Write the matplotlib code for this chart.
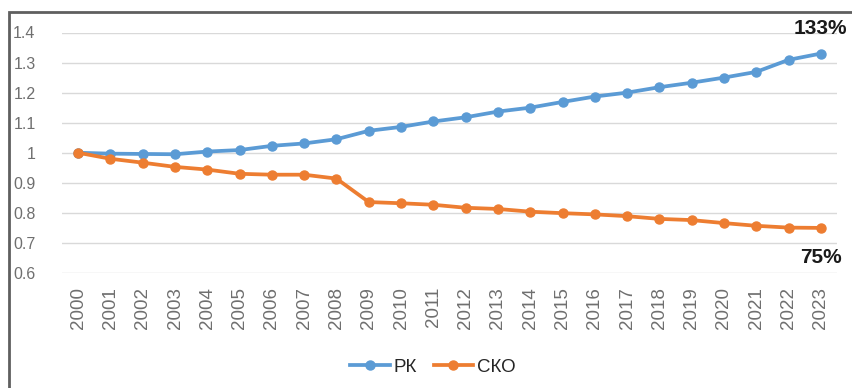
import matplotlib.pyplot as plt
from matplotlib.patches import Rectangle

plt.rcParams['font.family'] = ['Liberation Sans', 'DejaVu Sans']

# years and index values (2000 = 1)
years = [str(y) for y in range(2000, 2024)]
rk = [1.000, 0.997, 0.996, 0.995, 1.004, 1.009, 1.023, 1.031, 1.045, 1.073,
      1.086, 1.104, 1.118, 1.137, 1.150, 1.169, 1.187, 1.200, 1.218, 1.233,
      1.250, 1.269, 1.309, 1.33]
sko = [1.000, 0.980, 0.967, 0.953, 0.944, 0.930, 0.927, 0.927, 0.914, 0.836,
       0.832, 0.827, 0.817, 0.813, 0.804, 0.799, 0.795, 0.789, 0.780, 0.776,
       0.766, 0.757, 0.751, 0.75]
yticks = [0.6, 0.7, 0.8, 0.9, 1, 1.1, 1.2, 1.3, 1.4]

BLUE = '#5b9bd5'
ORANGE = '#ed7d31'
GREY = '#6f6f6f'

fig = plt.figure(figsize=(8.52, 3.88), dpi=100)
ax = fig.add_axes([62 / 852, 1 - 273 / 388, 775 / 852, 240.5 / 388])

x = range(len(years))
ax.plot(x, rk, color=BLUE, lw=2.7, marker='o', ms=6.5, label='РК', zorder=3)
ax.plot(x, sko, color=ORANGE, lw=2.7, marker='o', ms=6.5, label='СКО', zorder=3)

ax.set_xlim(-0.5, len(years) - 0.5)
ax.set_ylim(0.6, 1.4)
ax.set_yticks(yticks)
ax.set_yticklabels([f'{v:g}' for v in yticks])
ax.set_xticks(list(x))
ax.set_xticklabels(years, rotation=90)
ax.tick_params(axis='y', length=0, pad=19, labelsize=11.5, labelcolor=GREY)
ax.tick_params(axis='x', length=0, pad=10, labelsize=13.5, labelcolor=GREY)
ax.grid(axis='y', color='#d9d9d9', lw=1)
ax.set_axisbelow(True)
for s in ax.spines.values():
    s.set_visible(False)

# end-point percentage labels
ax.annotate(f'{rk[-1] * 100:.0f}%', (len(years) - 1, rk[-1]), xytext=(0, 18),
            textcoords='offset points', ha='center', va='center',
            fontsize=15, fontweight='bold', color='#1a1a1a')
ax.annotate(f'{sko[-1] * 100:.0f}%', (len(years) - 1, sko[-1]), xytext=(0, -21),
            textcoords='offset points', ha='center', va='center',
            fontsize=15, fontweight='bold', color='#1a1a1a')

fig.legend(loc='center', bbox_to_anchor=(433 / 852, 1 - 367 / 388), ncol=2,
           frameon=False, fontsize=13.5, handlelength=2.1, handletextpad=0.2,
           columnspacing=0.9, labelcolor='#262626')

# outer frame around the chart
fig.patches.append(Rectangle((9 / 852, -0.2), 1.2, 1.2 - 12 / 388,
                             transform=fig.transFigure, fill=False,
                             edgecolor='#5f5f5f', lw=2))

fig.savefig('out.png', dpi=100, facecolor='white')
